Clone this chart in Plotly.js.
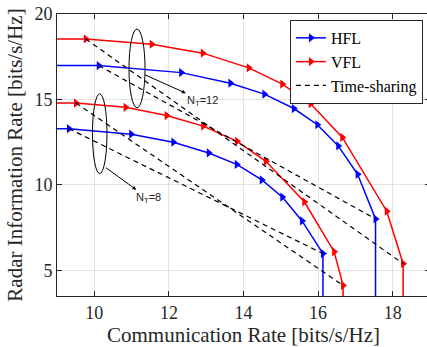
<!DOCTYPE html>
<html>
<head>
<meta charset="utf-8">
<script src="https://cdn.plot.ly/plotly-3.0.1.min.js"></script>
<style>
html,body{margin:0;padding:0;overflow:hidden;background:#fff;}
#chart{width:431px;height:347px;}
</style>
</head>
<body>
<div id="chart"></div>
<script>
// HFL, N_T = 12
var hfl12X = [0, 10.12, 12.33, 13.65, 14.56, 15.35, 15.98, 16.54, 17.06, 17.54, 17.54];
var hfl12Y = [16.98, 16.98, 16.57, 15.95, 15.31, 14.47, 13.52, 12.28, 10.62, 8.01, 0];
// VFL, N_T = 12
var vfl12X = [0, 9.77, 11.54, 12.91, 14.14, 15.04, 15.80, 16.65, 17.84, 18.28, 18.28];
var vfl12Y = [18.54, 18.54, 18.23, 17.71, 16.85, 15.90, 14.75, 12.78, 8.46, 5.39, 0];
// HFL, N_T = 8
var hfl8X = [0, 9.32, 10.99, 12.12, 13.07, 13.82, 14.49, 15.04, 15.57, 16.13, 16.13];
var hfl8Y = [13.29, 13.29, 12.97, 12.50, 11.87, 11.20, 10.29, 9.29, 7.89, 5.98, 0];
// VFL, N_T = 8
var vfl8X = [0, 9.51, 10.84, 11.94, 12.92, 13.83, 14.60, 15.63, 16.43, 16.67, 16.67];
var vfl8Y = [14.79, 14.79, 14.54, 14.06, 13.44, 12.55, 11.38, 9.01, 6.09, 4.12, 0];
// Time-sharing lines
var tsHfl12X = [10.12, 17.54], tsHfl12Y = [16.98, 8.01];
var tsVfl12X = [9.77, 18.28],  tsVfl12Y = [18.54, 5.39];
var tsHfl8X  = [9.32, 16.13],  tsHfl8Y  = [13.29, 5.98];
var tsVfl8X  = [9.51, 16.67],  tsVfl8Y  = [14.79, 4.12];

var xTicks = [10, 12, 14, 16, 18];
var yTicks = [5, 10, 15, 20];

var BLUE = '#0000ff', RED = '#ff0000';
function curve(x, y, color, name, show) {
  return {x: x, y: y, type: 'scatter', mode: 'lines+markers', name: name,
    legendgroup: name, showlegend: show,
    line: {color: color, width: 1.5},
    marker: {symbol: 'triangle-right', size: 8, color: color}};
}
function ts(x, y, show) {
  return {x: x, y: y, type: 'scatter', mode: 'lines', name: 'Time-sharing',
    legendgroup: 'ts', showlegend: show,
    line: {color: '#000000', width: 1.2, dash: '5px,4px'}};
}
var data = [
  curve(hfl12X, hfl12Y, BLUE, 'HFL', true),
  curve(hfl8X, hfl8Y, BLUE, 'HFL', false),
  curve(vfl12X, vfl12Y, RED, 'VFL', true),
  curve(vfl8X, vfl8Y, RED, 'VFL', false),
  ts(tsHfl12X, tsHfl12Y, true),
  ts(tsVfl12X, tsVfl12Y, false),
  ts(tsHfl8X, tsHfl8Y, false),
  ts(tsVfl8X, tsVfl8Y, false)
];

var serif = 'Liberation Serif, Times New Roman, serif';
var sans = 'Liberation Sans, Arial, sans-serif';
var axisCommon = {
  showline: true, mirror: 'ticks', linecolor: '#262626', linewidth: 1,
  ticks: 'inside', ticklen: 5, tickcolor: '#262626',
  showgrid: true, gridcolor: '#e3e3e3', gridwidth: 1, zeroline: false,
  tickfont: {family: serif, size: 18, color: '#262626'}
};
var layout = {
  width: 431, height: 347,
  margin: {l: 57, r: 1, t: 14, b: 51},
  paper_bgcolor: '#fff', plot_bgcolor: '#fff',
  xaxis: Object.assign({}, axisCommon, {
    range: [9, 19], tickvals: xTicks, ticktext: xTicks.map(String),
    title: {text: 'Communication Rate [bits/s/Hz]', font: {family: serif, size: 21, color: '#262626'}, standoff: 4}
  }),
  yaxis: Object.assign({}, axisCommon, {
    range: [3.5, 20], tickvals: yTicks, ticktext: yTicks.map(String),
    title: {text: 'Radar Information Rate [bits/s/Hz]', font: {family: serif, size: 21, color: '#262626'}, standoff: 6}
  }),
  showlegend: true,
  legend: {x: 0.981, y: 0.979, xanchor: 'right', yanchor: 'top',
    bgcolor: '#fff', bordercolor: '#262626', borderwidth: 1,
    font: {family: serif, size: 16, color: '#000'},
    itemwidth: 30, tracegroupgap: 0},
  shapes: [
    {type: 'circle', xref: 'x', yref: 'y', x0: 10.93, x1: 11.36, y0: 14.51, y1: 19.12,
     line: {color: '#000', width: 1}},
    {type: 'circle', xref: 'x', yref: 'y', x0: 9.95, x1: 10.34, y0: 10.66, y1: 15.33,
     line: {color: '#000', width: 1}}
  ],
  annotations: [
    {x: 11.36, y: 16.44, ax: 12.91, ay: 14.92, axref: 'x', ayref: 'y', xref: 'x', yref: 'y',
     text: 'N<sub>T</sub>=12', showarrow: true, arrowside: 'start',
     startarrowhead: 2, startarrowsize: 0.8, arrowwidth: 1, arrowcolor: '#000',
     standoff: 0, startstandoff: 0,
     font: {family: sans, size: 11, color: '#262626'}},
    {x: 10.31, y: 11.01, ax: 11.44, ay: 9.22, axref: 'x', ayref: 'y', xref: 'x', yref: 'y',
     text: 'N<sub>T</sub>=8', showarrow: true, arrowside: 'start',
     startarrowhead: 2, startarrowsize: 0.8, arrowwidth: 1, arrowcolor: '#000',
     standoff: 0, startstandoff: 0,
     font: {family: sans, size: 11, color: '#262626'}}
  ]
};
Plotly.newPlot('chart', data, layout, {displayModeBar: false, staticPlot: true});
</script>
</body>
</html>
